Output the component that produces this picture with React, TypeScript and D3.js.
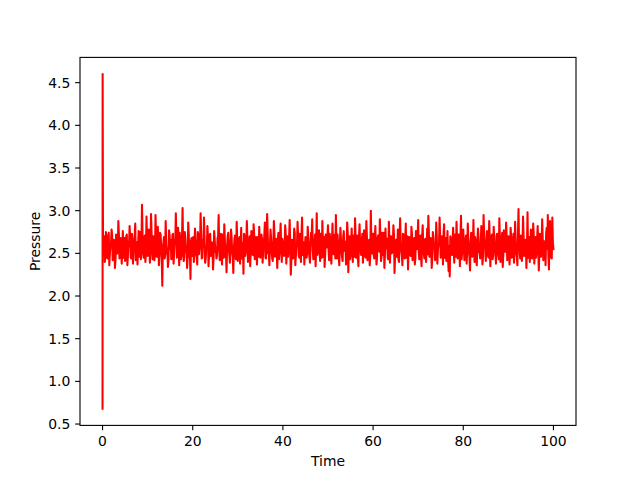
import React from "react";
import * as d3 from "d3";

const startTimes = [0, 0.02, 0.1];
const startValues = [0.68, 4.6, 2.55];
const timeStep = 0.25;
// readings at whole steps (t = 0.25, 0.5, ... 100)
const bandValues = [
  2.62, 2.40, 2.75, 2.45, 2.70, 2.36, 2.58, 2.78, 2.42, 2.66, 2.33, 2.72, 2.50, 2.88, 2.44, 2.68, 2.38, 2.76, 2.52, 2.41,
  2.70, 2.36, 2.64, 2.82, 2.45, 2.73, 2.38, 2.60, 2.85, 2.48, 2.37, 2.76, 2.55, 2.43, 3.07, 2.50, 2.66, 2.40, 2.93, 2.47,
  2.78, 2.39, 2.96, 2.52, 2.70, 2.42, 2.95, 2.46, 2.81, 2.36, 2.74, 2.58, 2.12, 2.62, 2.44, 2.88, 2.50, 2.34, 2.77, 2.55,
  2.43, 2.71, 2.38, 2.66, 2.97, 2.45, 2.80, 2.36, 2.62, 2.48, 3.03, 2.41, 2.75, 2.52, 2.33, 2.86, 2.46, 2.20, 2.68, 2.57,
  2.40, 2.79, 2.49, 2.37, 2.72, 2.56, 2.97, 2.44, 2.66, 2.92, 2.39, 2.58, 2.82, 2.35, 2.70, 2.47, 2.63, 2.31, 2.76, 2.52,
  2.44, 2.68, 2.95, 2.42, 2.73, 2.37, 2.60, 2.84, 2.46, 2.28, 2.70, 2.54, 2.39, 2.78, 2.51, 2.27, 2.66, 2.45, 2.87, 2.41,
  2.66, 2.38, 2.80, 2.47, 2.26, 2.71, 2.52, 2.88, 2.40, 2.64, 2.35, 2.76, 2.49, 2.84, 2.43, 2.69, 2.37, 2.58, 2.81, 2.45,
  2.72, 2.39, 2.61, 2.86, 2.44, 2.96, 2.50, 2.36, 2.78, 2.55, 2.41, 2.88, 2.46, 2.67, 2.33, 2.74, 2.58, 2.85, 2.40, 2.63,
  2.47, 2.83, 2.38, 2.70, 2.52, 2.89, 2.25, 2.66, 2.44, 2.79, 2.36, 2.61, 2.87, 2.48, 2.73, 2.40, 2.92, 2.53, 2.37, 2.69,
  2.45, 2.81, 2.56, 2.39, 2.74, 2.90, 2.43, 2.64, 2.35, 2.97, 2.51, 2.77, 2.41, 2.68, 2.88, 2.46, 2.34, 2.72, 2.57, 2.83,
  2.42, 2.67, 2.38, 2.85, 2.49, 2.72, 2.95, 2.44, 2.60, 2.36, 2.80, 2.53, 2.41, 2.76, 2.64, 2.37, 2.86, 2.28, 2.70, 2.48,
  2.79, 2.40, 2.63, 2.91, 2.45, 2.71, 2.35, 2.84, 2.52, 2.66, 2.39, 2.77, 2.47, 2.88, 2.42, 2.60, 2.36, 3.00, 2.50, 2.73,
  2.44, 2.82, 2.37, 2.68, 2.55, 2.90, 2.41, 2.74, 2.48, 2.33, 2.79, 2.62, 2.45, 2.87, 2.39, 2.70, 2.51, 2.83, 2.27, 2.65,
  2.46, 2.78, 2.40, 2.91, 2.53, 2.36, 2.72, 2.44, 2.85, 2.58, 2.31, 2.69, 2.48, 2.81, 2.42, 2.64, 2.37, 2.76, 2.55, 2.89,
  2.43, 2.71, 2.35, 2.83, 2.50, 2.66, 2.40, 2.79, 2.94, 2.46, 2.68, 2.33, 2.75, 2.57, 2.42, 2.86, 2.38, 2.62, 2.92, 2.45,
  2.70, 2.37, 2.84, 2.52, 2.41, 2.76, 2.29, 2.23, 2.66, 2.48, 2.80, 2.39, 2.61, 2.87, 2.44, 2.72, 2.35, 2.94, 2.51, 2.78,
  2.42, 2.67, 2.38, 2.85, 2.54, 2.30, 2.74, 2.46, 2.89, 2.40, 2.63, 2.36, 2.79, 2.51, 2.44, 2.82, 2.37, 2.95, 2.58, 2.41,
  2.76, 2.47, 2.88, 2.35, 2.69, 2.43, 2.81, 2.55, 2.38, 2.73, 2.49, 2.91, 2.40, 2.64, 2.34, 2.77, 2.52, 2.86, 2.42, 2.70,
  2.37, 2.80, 2.45, 2.63, 2.39, 2.87, 2.50, 2.36, 3.02, 2.55, 2.71, 2.41, 2.93, 2.47, 2.66, 2.33, 2.98, 2.52, 2.40, 2.78,
  2.44, 2.85, 2.38, 2.69, 2.51, 2.82, 2.30, 2.73, 2.46, 2.90, 2.42, 2.64, 2.36, 2.80, 2.95, 2.31, 2.88, 2.45, 2.92, 2.55,
];
// readings at half steps (t = 0.125, 0.375, ... 99.875)
const bandValuesHalf = [
  2.55, 2.70, 2.48, 2.66, 2.44, 2.74, 2.50, 2.62, 2.71, 2.46, 2.58, 2.43, 2.69, 2.52, 2.73, 2.47, 2.64, 2.55, 2.45, 2.68,
  2.50, 2.72, 2.47, 2.59, 2.68, 2.44, 2.66, 2.51, 2.70, 2.42, 2.63, 2.57, 2.46, 2.75, 2.58, 2.69, 2.45, 2.71, 2.53, 2.64,
  2.48, 2.67, 2.55, 2.74, 2.43, 2.61, 2.52, 2.70, 2.46, 2.65, 2.49, 2.72, 2.44, 2.58, 2.69, 2.47, 2.63, 2.56, 2.42, 2.71,
  2.66, 2.45, 2.73, 2.50, 2.62, 2.70, 2.48, 2.57, 2.74, 2.43, 2.68, 2.54, 2.46, 2.67, 2.59, 2.44, 2.72, 2.51, 2.65, 2.47,
  2.69, 2.52, 2.64, 2.46, 2.75, 2.49, 2.60, 2.71, 2.45, 2.58, 2.67, 2.43, 2.55, 2.70, 2.48, 2.73, 2.50, 2.62, 2.44, 2.66,
  2.57, 2.47, 2.70, 2.54, 2.63, 2.49, 2.72, 2.45, 2.66, 2.51, 2.59, 2.74, 2.48, 2.61, 2.68, 2.46, 2.56, 2.71, 2.43, 2.64,
  2.50, 2.69, 2.56, 2.44, 2.62, 2.73, 2.47, 2.58, 2.67, 2.45, 2.70, 2.53, 2.64, 2.48, 2.72, 2.51, 2.60, 2.69, 2.46, 2.57,
  2.48, 2.66, 2.53, 2.71, 2.45, 2.63, 2.74, 2.50, 2.59, 2.68, 2.44, 2.61, 2.72, 2.47, 2.56, 2.65, 2.43, 2.70, 2.52, 2.67,
  2.61, 2.49, 2.72, 2.55, 2.46, 2.68, 2.58, 2.43, 2.65, 2.51, 2.74, 2.47, 2.60, 2.69, 2.45, 2.57, 2.71, 2.48, 2.63, 2.54,
  2.64, 2.50, 2.70, 2.46, 2.59, 2.67, 2.53, 2.44, 2.72, 2.57, 2.48, 2.66, 2.55, 2.73, 2.45, 2.62, 2.69, 2.49, 2.58, 2.71,
  2.55, 2.73, 2.47, 2.64, 2.51, 2.69, 2.44, 2.60, 2.72, 2.48, 2.58, 2.66, 2.45, 2.70, 2.53, 2.62, 2.49, 2.74, 2.56, 2.43,
  2.63, 2.52, 2.71, 2.46, 2.67, 2.55, 2.44, 2.69, 2.58, 2.48, 2.73, 2.50, 2.62, 2.45, 2.70, 2.54, 2.66, 2.47, 2.59, 2.72,
  2.49, 2.64, 2.57, 2.45, 2.71, 2.52, 2.68, 2.46, 2.61, 2.74, 2.48, 2.56, 2.67, 2.43, 2.63, 2.70, 2.50, 2.58, 2.72, 2.47,
  2.66, 2.55, 2.43, 2.69, 2.60, 2.48, 2.73, 2.51, 2.64, 2.45, 2.70, 2.57, 2.62, 2.47, 2.72, 2.53, 2.68, 2.44, 2.59, 2.71,
  2.52, 2.65, 2.46, 2.70, 2.58, 2.44, 2.67, 2.55, 2.49, 2.73, 2.50, 2.63, 2.45, 2.69, 2.57, 2.48, 2.71, 2.54, 2.61, 2.66,
  2.47, 2.62, 2.73, 2.45, 2.68, 2.53, 2.44, 2.59, 2.70, 2.50, 2.64, 2.56, 2.72, 2.46, 2.67, 2.52, 2.60, 2.69, 2.43, 2.65,
  2.58, 2.49, 2.71, 2.54, 2.66, 2.45, 2.62, 2.73, 2.48, 2.57, 2.69, 2.44, 2.64, 2.70, 2.51, 2.59, 2.67, 2.46, 2.72, 2.55,
  2.62, 2.53, 2.45, 2.68, 2.57, 2.72, 2.47, 2.64, 2.50, 2.70, 2.56, 2.43, 2.66, 2.59, 2.74, 2.48, 2.61, 2.52, 2.69, 2.46,
  2.60, 2.51, 2.68, 2.47, 2.73, 2.55, 2.63, 2.46, 2.70, 2.58, 2.44, 2.67, 2.52, 2.71, 2.49, 2.65, 2.57, 2.45, 2.69, 2.54,
  2.63, 2.48, 2.72, 2.56, 2.45, 2.67, 2.59, 2.50, 2.70, 2.53, 2.66, 2.47, 2.61, 2.73, 2.55, 2.49, 2.68, 2.57, 2.44, 2.62,
];
const xTicks = [0, 20, 40, 60, 80, 100];
const yTicks = [0.5, 1.0, 1.5, 2.0, 2.5, 3.0, 3.5, 4.0, 4.5];
const xLabel = "Time";
const yLabel = "Pressure";

export default function App() {
  const W = 640, H = 478;
  const left = 80, right = 576, top = 57.4, bottom = 425.4;
  const points: [number, number][] = startTimes.map((t, i) => [t, startValues[i]] as [number, number]);
  bandValues.forEach((v, i) => {
    points.push([(i + 0.5) * timeStep, bandValuesHalf[i]]);
    points.push([(i + 1) * timeStep, v]);
  });
  const xMin = 0, xMax = 100;
  const yMin = d3.min(points, (p) => p[1])!, yMax = d3.max(points, (p) => p[1])!;
  const xm = (xMax - xMin) * 0.05, ym = (yMax - yMin) * 0.05;
  const x = d3.scaleLinear().domain([xMin - xm, xMax + xm]).range([left, right]);
  const y = d3.scaleLinear().domain([yMin - ym, yMax + ym]).range([bottom, top]);
  const line = d3.line<[number, number]>().x((d) => x(d[0])).y((d) => y(d[1]));
  const font = "'DejaVu Sans', sans-serif";
  const tick = 4.86;
  return (
    <svg width={W} height={H} style={{ position: "absolute", left: 0, top: 0 }}>
      <rect width={W} height={H} fill="white" />
      <defs>
        <clipPath id="clip">
          <rect x={left} y={top} width={right - left} height={bottom - top} />
        </clipPath>
      </defs>
      <path d={line(points)!} fill="none" stroke="#ff0000" strokeWidth={2.08} strokeLinejoin="round" strokeLinecap="square" clipPath="url(#clip)" />
      <rect x={left} y={top} width={right - left} height={bottom - top} fill="none" stroke="black" strokeWidth={1.1} />
      {xTicks.map((t) => (
        <g key={"x" + t}>
          <line x1={x(t)} x2={x(t)} y1={bottom} y2={bottom + tick} stroke="black" strokeWidth={1.1} />
          <text x={x(t)} y={446} textAnchor="middle" fontFamily={font} fontSize={13.9} fill="black">{String(t)}</text>
        </g>
      ))}
      {yTicks.map((t) => (
        <g key={"y" + t}>
          <line x1={left - tick} x2={left} y1={y(t)} y2={y(t)} stroke="black" strokeWidth={1.1} />
          <text x={left - 2 * tick} y={y(t) + 5} textAnchor="end" fontFamily={font} fontSize={13.9} fill="black">{t.toFixed(1)}</text>
        </g>
      ))}
      <text x={(left + right) / 2} y={466} textAnchor="middle" fontFamily={font} fontSize={13.9} fill="black">{xLabel}</text>
      <text transform={`translate(40, ${(top + bottom) / 2}) rotate(-90)`} textAnchor="middle" fontFamily={font} fontSize={13.9} fill="black">{yLabel}</text>
    </svg>
  );
}
